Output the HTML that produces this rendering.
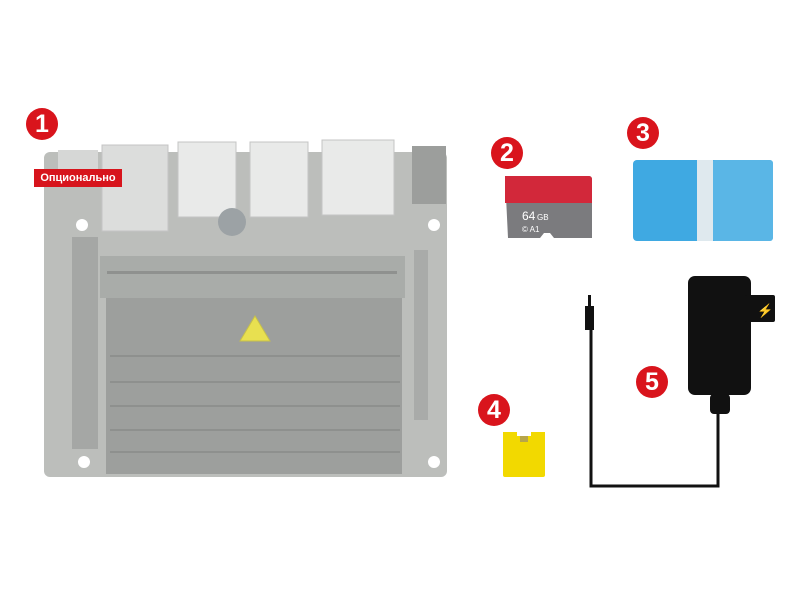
<!DOCTYPE html>
<html><head><meta charset="utf-8"><style>
body{margin:0;width:799px;height:600px;background:#fff;position:relative;overflow:hidden;font-family:"Liberation Sans",sans-serif}
.a{position:absolute}
.num{position:absolute;width:32px;height:32px;border-radius:50%;background:#d9141c;color:#fff;font-weight:bold;font-size:25px;text-align:center;line-height:32px}
</style></head><body>
<svg class="a" style="left:0;top:0" width="799" height="600">
<!-- board -->
<rect x="44" y="152" width="403" height="325" rx="6" fill="#bcbebb"/>
<!-- ethernet -->
<rect x="102" y="145" width="66" height="86" fill="#dcdddc" stroke="#c4c4c4"/>
<!-- usb -->
<rect x="178" y="142" width="58" height="75" fill="#e9eae9" stroke="#c4c4c4"/>
<rect x="250" y="142" width="58" height="75" fill="#e9eae9" stroke="#c4c4c4"/>
<rect x="322" y="140" width="72" height="75" fill="#e9eae9" stroke="#c4c4c4"/>
<rect x="412" y="146" width="34" height="58" fill="#9c9e9c"/>
<rect x="58" y="150" width="40" height="20" fill="#d6d7d6"/>
<circle cx="232" cy="222" r="14" fill="#9ca2a5"/>
<!-- header -->
<rect x="72" y="237" width="26" height="212" fill="#a5a7a5"/>
<!-- module -->
<rect x="100" y="256" width="305" height="42" fill="#a9aca9"/>
<rect x="107" y="271" width="290" height="3" fill="#8f918f"/>
<rect x="106" y="298" width="296" height="176" fill="#9d9f9d"/>
<g stroke="#8e908e" stroke-width="2">
<line x1="110" y1="356" x2="400" y2="356"/><line x1="110" y1="382" x2="400" y2="382"/><line x1="110" y1="406" x2="400" y2="406"/><line x1="110" y1="430" x2="400" y2="430"/><line x1="110" y1="452" x2="400" y2="452"/>
</g>
<polygon points="255,316 270,341 240,341" fill="#e8e050" stroke="#c7c04a"/>
<rect x="414" y="250" width="14" height="170" fill="#a9aba9"/>
<circle cx="82" cy="225" r="6" fill="#fff"/><circle cx="434" cy="225" r="6" fill="#fff"/>
<circle cx="84" cy="462" r="6" fill="#fff"/><circle cx="434" cy="462" r="6" fill="#fff"/>
<!-- sd card -->
<path d="M505 176 h84 a3 3 0 0 1 3 3 v59 h-38 l-4 -5 h-6 l-4 5 h-32 z" fill="#7b7b7e"/>
<path d="M505 176 h84 a3 3 0 0 1 3 3 v24 h-87 z" fill="#d2283a"/>
<text x="522" y="220" font-size="12" fill="#fff">64</text>
<text x="537" y="220" font-size="8" fill="#fff">GB</text>
<text x="522" y="232" font-size="8" fill="#fff">© A1</text>
<!-- blue usb stick -->
<rect x="633" y="160" width="140" height="81" rx="4" fill="#3fa9e2"/>
<rect x="712" y="160" width="61" height="81" rx="3" fill="#5ab6e6"/>
<rect x="697" y="160" width="16" height="81" fill="#dfe9ee"/>
<!-- power adapter -->
<rect x="688" y="276" width="63" height="119" rx="7" fill="#111"/>
<rect x="745" y="295" width="30" height="27" rx="2" fill="#111"/>
<text x="757" y="315" font-size="13" fill="#fff">⚡</text>
<rect x="710" y="394" width="20" height="20" rx="4" fill="#111"/>
<path d="M718 410 v76 h-127 v-160" fill="none" stroke="#111" stroke-width="3"/>
<rect x="585" y="306" width="9" height="24" fill="#111"/>
<rect x="588" y="295" width="3" height="12" fill="#111"/>
<!-- jumper -->
<rect x="503" y="436" width="42" height="41" rx="2" fill="#f2d900"/>
<rect x="503" y="432" width="14" height="10" fill="#f2d900"/>
<rect x="531" y="432" width="14" height="10" fill="#f2d900"/>
<rect x="520" y="436" width="8" height="6" fill="#b7a54a"/>
</svg>
<div class="num" style="left:26px;top:108px">1</div>
<div class="a" style="left:34px;top:169px;width:88px;height:18px;background:#d7141c;color:#fff;font-weight:bold;font-size:11px;line-height:18px;text-align:center">Опционально</div>
<div class="num" style="left:491px;top:137px">2</div>
<div class="num" style="left:627px;top:117px">3</div>
<div class="num" style="left:478px;top:394px">4</div>
<div class="num" style="left:636px;top:366px">5</div>
</body></html>
